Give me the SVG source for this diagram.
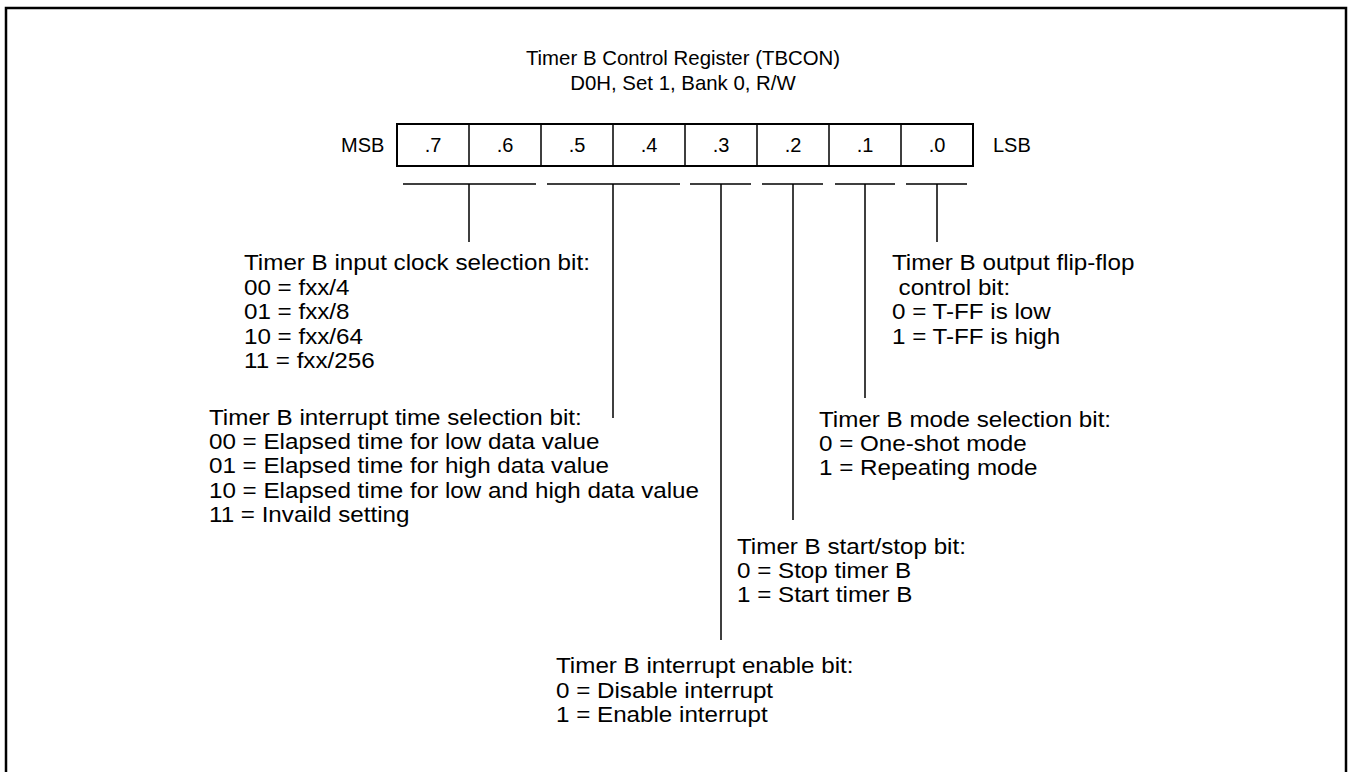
<svg xmlns="http://www.w3.org/2000/svg" width="1348" height="772" viewBox="0 0 1348 772">
<style>
text{font-family:"Liberation Sans",Arial,sans-serif;font-size:20px;fill:#000}
.c{text-anchor:middle}
.b text{font-size:22px}
.ln{stroke:#000;stroke-width:1.5;fill:none}
.box{stroke:#000;stroke-width:2;fill:#fff}
</style>
<rect x="6" y="8" width="1340" height="800" fill="#fff" stroke="#000" stroke-width="2.5"/>
<g id="title">
<text class="c" x="683" y="65" style="font-size:20.4px">Timer B Control Register (TBCON)</text>
<text class="c" x="683" y="90" style="font-size:20.4px">D0H, Set 1, Bank 0, R/W</text>
</g>
<g id="register">
<text x="341" y="152">MSB</text>
<text x="993" y="152">LSB</text>
<rect class="box" x="397" y="124" width="576" height="42"/>
<path class="ln" d="M469 124V166M541 124V166M613 124V166M685 124V166M757 124V166M829 124V166M901 124V166"/>
<text class="c" x="433" y="152">.7</text>
<text class="c" x="505" y="152">.6</text>
<text class="c" x="577" y="152">.5</text>
<text class="c" x="649" y="152">.4</text>
<text class="c" x="721" y="152">.3</text>
<text class="c" x="793" y="152">.2</text>
<text class="c" x="865" y="152">.1</text>
<text class="c" x="937" y="152">.0</text>
</g>
<g id="connectors">
<path class="ln" d="M403 184H536M547 184H680M690 184H751M762 184H823M835 184H895M906 184H967"/>
<path class="ln" d="M469 184V242M613 184V418M721 184V640M793 184V520M865 184V398M937 184V242"/>
</g>
<g id="clock" class="b" transform="matrix(1.1 0 0 1 -24.4 0)">
<text x="244" y="270">Timer B input clock selection bit:</text>
<text x="244" y="295">00 = fxx/4</text>
<text x="244" y="319">01 = fxx/8</text>
<text x="244" y="344">10 = fxx/64</text>
<text x="244" y="368">11 = fxx/256</text>
</g>
<g id="inttime" class="b" transform="matrix(1.1 0 0 1 -20.9 0)">
<text x="209" y="425">Timer B interrupt time selection bit:</text>
<text x="209" y="449">00 = Elapsed time for low data value</text>
<text x="209" y="473">01 = Elapsed time for high data value</text>
<text x="209" y="498">10 = Elapsed time for low and high data value</text>
<text x="209" y="522">11 = Invaild setting</text>
</g>
<g id="intenable" class="b" transform="matrix(1.1 0 0 1 -55.6 0)">
<text x="556" y="673">Timer B interrupt enable bit:</text>
<text x="556" y="698">0 = Disable interrupt</text>
<text x="556" y="722">1 = Enable interrupt</text>
</g>
<g id="startstop" class="b" transform="matrix(1.1 0 0 1 -73.7 0)">
<text x="737" y="554">Timer B start/stop bit:</text>
<text x="737" y="578">0 = Stop timer B</text>
<text x="737" y="602">1 = Start timer B</text>
</g>
<g id="mode" class="b" transform="matrix(1.1 0 0 1 -81.9 0)">
<text x="819" y="427">Timer B mode selection bit:</text>
<text x="819" y="451">0 = One-shot mode</text>
<text x="819" y="475">1 = Repeating mode</text>
</g>
<g id="tff" class="b" transform="matrix(1.1 0 0 1 -89.2 0)">
<text x="892" y="270">Timer B output flip-flop</text>
<text x="898" y="295">control bit:</text>
<text x="892" y="319">0 = T-FF is low</text>
<text x="892" y="344">1 = T-FF is high</text>
</g>
</svg>
